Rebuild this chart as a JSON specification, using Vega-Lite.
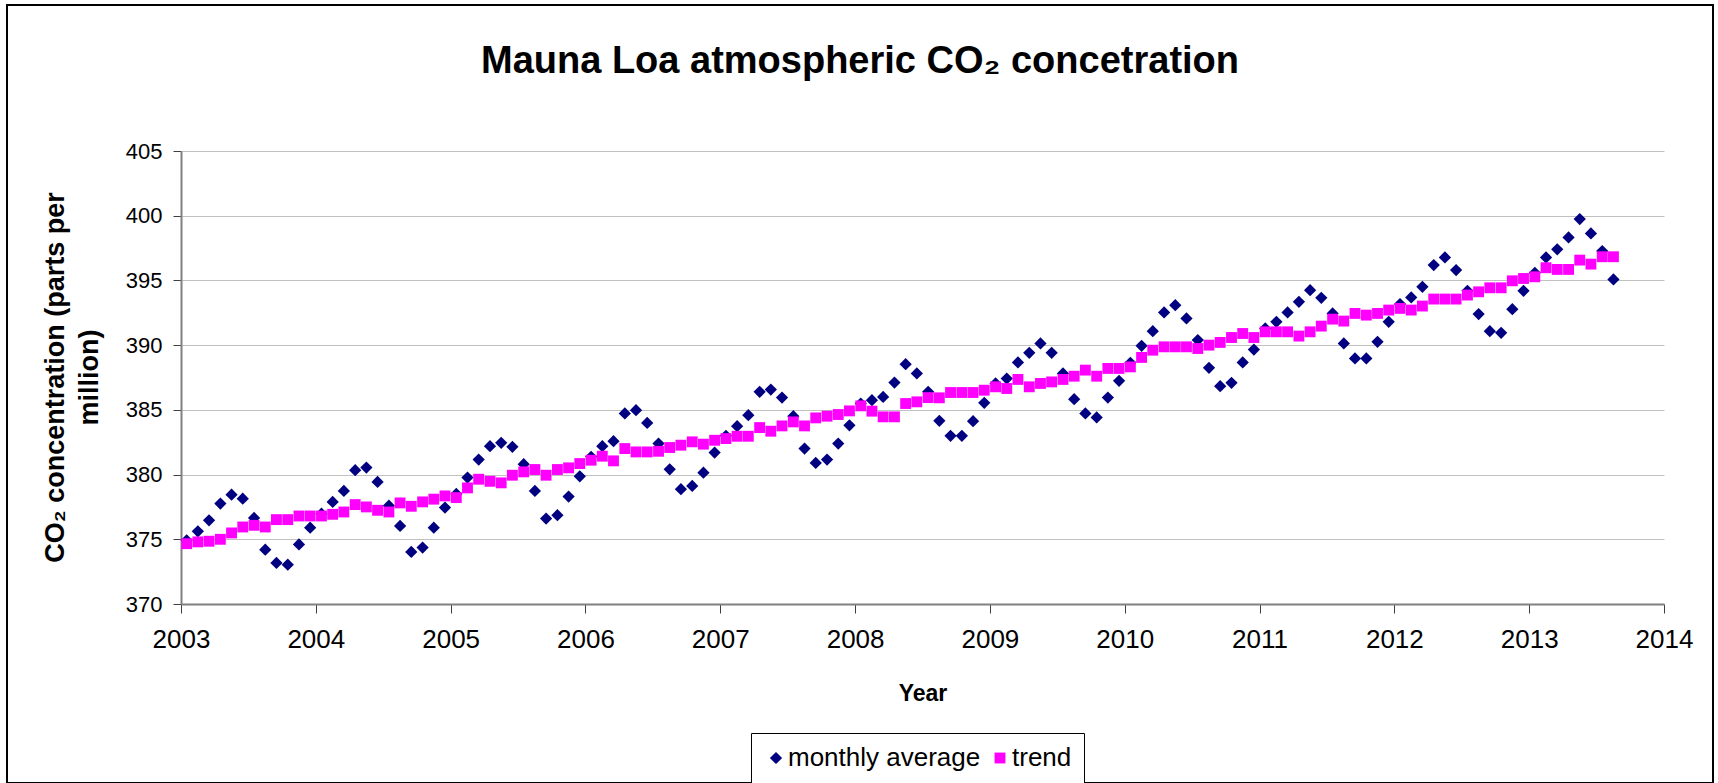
{
  "$schema": "https://vega.github.io/schema/vega-lite/v6.json",
  "width": 1706,
  "height": 778,
  "autosize": {"type": "none"},
  "padding": {"left": 7, "top": 5, "right": 5, "bottom": 0},
  "background": "white",
  "config": {
    "font": "Liberation Sans",
    "view": {"stroke": "black", "strokeWidth": 2, "fill": "white"}
  },
  "title": {
    "text": "Mauna Loa atmospheric CO₂ concetration",
    "font": "Liberation Sans",
    "fontSize": 38,
    "fontWeight": "bold",
    "color": "black",
    "anchor": "middle",
    "frame": "group",
    "baseline": "alphabetic",
    "offset": -106
  },
  "data": {
    "values": [
      {"date": 2003.042, "monthly": 374.92, "trend": 374.66},
      {"date": 2003.125, "monthly": 375.62, "trend": 374.8},
      {"date": 2003.208, "monthly": 376.47, "trend": 374.85},
      {"date": 2003.292, "monthly": 377.76, "trend": 375.0},
      {"date": 2003.375, "monthly": 378.45, "trend": 375.49},
      {"date": 2003.458, "monthly": 378.14, "trend": 375.95},
      {"date": 2003.542, "monthly": 376.65, "trend": 376.08},
      {"date": 2003.625, "monthly": 374.2, "trend": 375.95},
      {"date": 2003.708, "monthly": 373.17, "trend": 376.52},
      {"date": 2003.792, "monthly": 373.04, "trend": 376.52},
      {"date": 2003.875, "monthly": 374.6, "trend": 376.8},
      {"date": 2003.958, "monthly": 375.9, "trend": 376.8},
      {"date": 2004.042, "monthly": 376.98, "trend": 376.8},
      {"date": 2004.125, "monthly": 377.89, "trend": 376.93},
      {"date": 2004.208, "monthly": 378.74, "trend": 377.11},
      {"date": 2004.292, "monthly": 380.34, "trend": 377.68},
      {"date": 2004.375, "monthly": 380.54, "trend": 377.5},
      {"date": 2004.458, "monthly": 379.43, "trend": 377.24},
      {"date": 2004.542, "monthly": 377.6, "trend": 377.11},
      {"date": 2004.625, "monthly": 376.03, "trend": 377.81},
      {"date": 2004.708, "monthly": 374.02, "trend": 377.55},
      {"date": 2004.792, "monthly": 374.36, "trend": 377.89},
      {"date": 2004.875, "monthly": 375.9, "trend": 378.1},
      {"date": 2004.958, "monthly": 377.45, "trend": 378.35},
      {"date": 2005.042, "monthly": 378.5, "trend": 378.22},
      {"date": 2005.125, "monthly": 379.77, "trend": 378.97},
      {"date": 2005.208, "monthly": 381.16, "trend": 379.64},
      {"date": 2005.292, "monthly": 382.19, "trend": 379.48},
      {"date": 2005.375, "monthly": 382.45, "trend": 379.36},
      {"date": 2005.458, "monthly": 382.14, "trend": 379.95},
      {"date": 2005.542, "monthly": 380.8, "trend": 380.21},
      {"date": 2005.625, "monthly": 378.74, "trend": 380.39},
      {"date": 2005.708, "monthly": 376.6, "trend": 379.95},
      {"date": 2005.792, "monthly": 376.86, "trend": 380.39},
      {"date": 2005.875, "monthly": 378.3, "trend": 380.52},
      {"date": 2005.958, "monthly": 379.87, "trend": 380.85},
      {"date": 2006.042, "monthly": 381.37, "trend": 381.11},
      {"date": 2006.125, "monthly": 382.19, "trend": 381.42},
      {"date": 2006.208, "monthly": 382.58, "trend": 381.06},
      {"date": 2006.292, "monthly": 384.72, "trend": 382.01},
      {"date": 2006.375, "monthly": 384.97, "trend": 381.75},
      {"date": 2006.458, "monthly": 383.99, "trend": 381.75},
      {"date": 2006.542, "monthly": 382.4, "trend": 381.8},
      {"date": 2006.625, "monthly": 380.41, "trend": 382.09},
      {"date": 2006.708, "monthly": 378.87, "trend": 382.27},
      {"date": 2006.792, "monthly": 379.12, "trend": 382.53},
      {"date": 2006.875, "monthly": 380.15, "trend": 382.35},
      {"date": 2006.958, "monthly": 381.7, "trend": 382.65},
      {"date": 2007.042, "monthly": 382.99, "trend": 382.78},
      {"date": 2007.125, "monthly": 383.74, "trend": 382.96},
      {"date": 2007.208, "monthly": 384.59, "trend": 382.96},
      {"date": 2007.292, "monthly": 386.39, "trend": 383.63},
      {"date": 2007.375, "monthly": 386.57, "trend": 383.35},
      {"date": 2007.458, "monthly": 385.95, "trend": 383.76},
      {"date": 2007.542, "monthly": 384.51, "trend": 384.07},
      {"date": 2007.625, "monthly": 382.01, "trend": 383.76},
      {"date": 2007.708, "monthly": 380.9, "trend": 384.38},
      {"date": 2007.792, "monthly": 381.16, "trend": 384.51},
      {"date": 2007.875, "monthly": 382.4, "trend": 384.64},
      {"date": 2007.958, "monthly": 383.81, "trend": 384.92},
      {"date": 2008.042, "monthly": 385.49, "trend": 385.31},
      {"date": 2008.125, "monthly": 385.75, "trend": 384.9},
      {"date": 2008.208, "monthly": 386.0, "trend": 384.46},
      {"date": 2008.292, "monthly": 387.11, "trend": 384.46},
      {"date": 2008.375, "monthly": 388.53, "trend": 385.49},
      {"date": 2008.458, "monthly": 387.81, "trend": 385.62},
      {"date": 2008.542, "monthly": 386.39, "trend": 385.95},
      {"date": 2008.625, "monthly": 384.15, "trend": 385.93},
      {"date": 2008.708, "monthly": 382.99, "trend": 386.34},
      {"date": 2008.792, "monthly": 382.99, "trend": 386.34},
      {"date": 2008.875, "monthly": 384.12, "trend": 386.34},
      {"date": 2008.958, "monthly": 385.54, "trend": 386.52},
      {"date": 2009.042, "monthly": 387.04, "trend": 386.78},
      {"date": 2009.125, "monthly": 387.42, "trend": 386.65},
      {"date": 2009.208, "monthly": 388.66, "trend": 387.35},
      {"date": 2009.292, "monthly": 389.41, "trend": 386.78},
      {"date": 2009.375, "monthly": 390.13, "trend": 387.04},
      {"date": 2009.458, "monthly": 389.41, "trend": 387.16},
      {"date": 2009.542, "monthly": 387.81, "trend": 387.35},
      {"date": 2009.625, "monthly": 385.82, "trend": 387.6},
      {"date": 2009.708, "monthly": 384.72, "trend": 388.07},
      {"date": 2009.792, "monthly": 384.41, "trend": 387.6},
      {"date": 2009.875, "monthly": 385.95, "trend": 388.2},
      {"date": 2009.958, "monthly": 387.24, "trend": 388.2},
      {"date": 2010.042, "monthly": 388.63, "trend": 388.32},
      {"date": 2010.125, "monthly": 389.95, "trend": 389.05},
      {"date": 2010.208, "monthly": 391.08, "trend": 389.61},
      {"date": 2010.292, "monthly": 392.53, "trend": 389.87},
      {"date": 2010.375, "monthly": 393.09, "trend": 389.87},
      {"date": 2010.458, "monthly": 392.06, "trend": 389.87},
      {"date": 2010.542, "monthly": 390.39, "trend": 389.74},
      {"date": 2010.625, "monthly": 388.25, "trend": 390.0},
      {"date": 2010.708, "monthly": 386.83, "trend": 390.21},
      {"date": 2010.792, "monthly": 387.09, "trend": 390.59},
      {"date": 2010.875, "monthly": 388.66, "trend": 390.9},
      {"date": 2010.958, "monthly": 389.66, "trend": 390.59},
      {"date": 2011.042, "monthly": 391.29, "trend": 391.03},
      {"date": 2011.125, "monthly": 391.8, "trend": 391.03},
      {"date": 2011.208, "monthly": 392.53, "trend": 391.03},
      {"date": 2011.292, "monthly": 393.35, "trend": 390.7},
      {"date": 2011.375, "monthly": 394.25, "trend": 391.03},
      {"date": 2011.458, "monthly": 393.66, "trend": 391.47},
      {"date": 2011.542, "monthly": 392.45, "trend": 392.01},
      {"date": 2011.625, "monthly": 390.13, "trend": 391.86},
      {"date": 2011.708, "monthly": 388.97, "trend": 392.45},
      {"date": 2011.792, "monthly": 388.97, "trend": 392.32},
      {"date": 2011.875, "monthly": 390.26, "trend": 392.45},
      {"date": 2011.958, "monthly": 391.8, "trend": 392.71},
      {"date": 2012.042, "monthly": 393.17, "trend": 392.84},
      {"date": 2012.125, "monthly": 393.69, "trend": 392.71},
      {"date": 2012.208, "monthly": 394.51, "trend": 393.02},
      {"date": 2012.292, "monthly": 396.19, "trend": 393.56},
      {"date": 2012.375, "monthly": 396.78, "trend": 393.56},
      {"date": 2012.458, "monthly": 395.8, "trend": 393.56},
      {"date": 2012.542, "monthly": 394.2, "trend": 393.87},
      {"date": 2012.625, "monthly": 392.4, "trend": 394.12},
      {"date": 2012.708, "monthly": 391.08, "trend": 394.43},
      {"date": 2012.792, "monthly": 390.95, "trend": 394.43},
      {"date": 2012.875, "monthly": 392.78, "trend": 394.97},
      {"date": 2012.958, "monthly": 394.2, "trend": 395.15},
      {"date": 2013.042, "monthly": 395.59, "trend": 395.28},
      {"date": 2013.125, "monthly": 396.78, "trend": 395.98},
      {"date": 2013.208, "monthly": 397.4, "trend": 395.85},
      {"date": 2013.292, "monthly": 398.32, "trend": 395.85},
      {"date": 2013.375, "monthly": 399.74, "trend": 396.57},
      {"date": 2013.458, "monthly": 398.63, "trend": 396.26},
      {"date": 2013.542, "monthly": 397.27, "trend": 396.83},
      {"date": 2013.625, "monthly": 395.08, "trend": 396.83}
    ]
  },
  "transform": [
    {"fold": ["monthly", "trend"], "as": ["series", "value"]}
  ],
  "mark": {"type": "point", "filled": true, "opacity": 1, "strokeWidth": 0},
  "encoding": {
    "x": {
      "field": "date",
      "type": "quantitative",
      "scale": {"domain": [2003, 2014], "range": [174, 1657], "nice": false, "zero": false},
      "axis": {
        "values": [2003, 2004, 2005, 2006, 2007, 2008, 2009, 2010, 2011, 2012, 2013, 2014],
        "format": "d",
        "offset": -179,
        "grid": false,
        "domainColor": "#808080",
        "domainWidth": 2,
        "tickColor": "#404040",
        "tickSize": 9,
        "tickWidth": 1,
        "labelFont": "Liberation Sans",
        "labelFontSize": 26,
        "labelColor": "black",
        "labelPadding": 13,
        "labelFlush": false,
        "labelOverlap": false,
        "title": "Year",
        "titleFont": "Liberation Sans",
        "titleFontSize": 23,
        "titleFontWeight": "bold",
        "titleColor": "black",
        "titleBaseline": "alphabetic",
        "titleY": 96
      }
    },
    "y": {
      "field": "value",
      "type": "quantitative",
      "scale": {"domain": [370, 405], "range": [599, 146], "nice": false, "zero": false},
      "axis": {
        "values": [370, 375, 380, 385, 390, 395, 400, 405],
        "offset": -174,
        "grid": true,
        "gridColor": "#c0c0c0",
        "gridWidth": 1,
        "domainColor": "#808080",
        "domainWidth": 2,
        "tickColor": "#404040",
        "tickSize": 8,
        "tickWidth": 1,
        "labelFont": "Liberation Sans",
        "labelFontSize": 22,
        "labelColor": "black",
        "labelPadding": 11,
        "labelOverlap": false,
        "labelFlush": false,
        "title": ["CO₂ concentration (parts per", "million)"],
        "titleFont": "Liberation Sans",
        "titleFontSize": 27,
        "titleFontWeight": "bold",
        "titleColor": "black",
        "titleAngle": -90,
        "titleAlign": "center",
        "titleBaseline": "alphabetic",
        "titleLineHeight": 34,
        "titleX": -118,
        "titleY": 372
      }
    },
    "color": {
      "field": "series",
      "type": "nominal",
      "scale": {"domain": ["monthly", "trend"], "range": ["#000080", "#FF00FF"]},
      "legend": {
        "title": null,
        "orient": "none",
        "legendX": 744,
        "legendY": 728,
        "direction": "horizontal",
        "strokeColor": "black",
        "fillColor": "white",
        "padding": 12,
        "labelFont": "Liberation Sans",
        "labelFontSize": 26,
        "labelColor": "black",
        "labelLimit": 0,
        "labelOffset": -1,
        "columnPadding": 6,
        "symbolSize": 150,
        "symbolStrokeWidth": 0,
        "labelExpr": "datum.label == 'monthly' ? 'monthly average' : 'trend'"
      }
    },
    "shape": {
      "field": "series",
      "type": "nominal",
      "scale": {"domain": ["monthly", "trend"], "range": ["diamond", "square"]}
    },
    "size": {
      "field": "series",
      "type": "nominal",
      "scale": {"domain": ["monthly", "trend"], "range": [150, 118]},
      "legend": null
    },
    "order": {"field": "series", "sort": "ascending"}
  }
}
